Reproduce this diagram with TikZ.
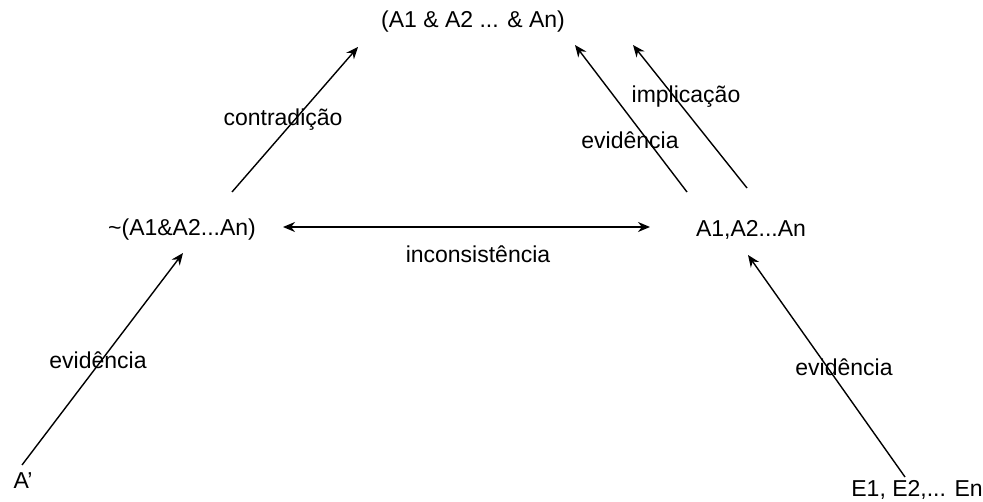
\documentclass[tikz,border=0pt]{standalone}
\usepackage{fontspec}
\setmainfont{Liberation Sans}
\usetikzlibrary{arrows.meta}
\begin{document}
\begin{tikzpicture}[x=1pt,y=-1pt,
  lbl/.style={font=\fontsize{23}{27}\selectfont, inner sep=0pt, anchor=center},
  arr/.style={-{Stealth[length=12pt,width=10pt]}, line width=1.4pt},
  darr/.style={{Stealth[length=12pt,width=10pt]}-{Stealth[length=12pt,width=10pt]}, line width=1.4pt}]
\useasboundingbox (0,0) rectangle (983,502);
% nodes
\node[lbl] (top) at (473,22) {(A1 \& A2 ... \& An)};
\node[lbl] (neg) at (182,230) {\textasciitilde(A1\&A2...An)};
\node[lbl] (as) at (751,230) {A1,A2...An};
\node[lbl] (ap) at (23,481) {A’};
\node[lbl] (es) at (917,490) {E1, E2,... En};
% connector endpoints
\coordinate (c1s) at (232,192); \coordinate (c1e) at (358,47);
\coordinate (c2s) at (22,465);  \coordinate (c2e) at (183,253);
\coordinate (c3s) at (283,227); \coordinate (c3e) at (650,227);
\coordinate (c4s) at (905,477); \coordinate (c4e) at (748,255);
\coordinate (c5s) at (687,192); \coordinate (c5e) at (575,45);
\coordinate (c6s) at (747,188); \coordinate (c6e) at (633,45);
% connectors
\draw[arr] (c1s) -- (c1e);
\draw[arr] (c2s) -- (c2e);
\draw[darr] (c3s) -- (c3e);
\draw[arr] (c4s) -- (c4e);
\draw[arr] (c5s) -- (c5e);
\draw[arr] (c6s) -- (c6e);
% labels
\node[lbl] (l1) at (283,120) {contradição};
\node[lbl] (l2) at (98,360) {evidência};
\node[lbl] (l3) at (478,254) {inconsistência};
\node[lbl] (l4) at (844,367) {evidência};
\node[lbl] (l5) at (686,97) {implicação};
\node[lbl] (l6) at (630,140) {evidência};
\end{tikzpicture}
\end{document}
